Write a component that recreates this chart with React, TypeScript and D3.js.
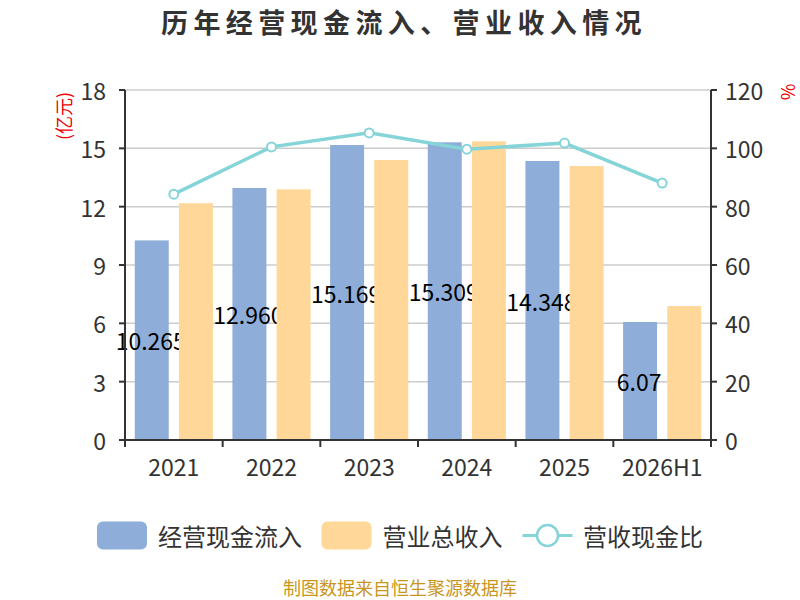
import React from 'react';
import * as d3 from 'd3';

const categories = ['2021', '2022', '2023', '2024', '2025', '2026H1'];
const cashInflow = [10.265, 12.96, 15.169, 15.309, 14.348, 6.07];
const cashInflowLabels = ['10.265', '12.960', '15.169', '15.309', '14.348', '6.07'];
const revenue = [12.18, 12.89, 14.4, 15.36, 14.09, 6.89];
const ratio = [84.3, 100.5, 105.3, 99.7, 101.8, 88.1];
const leftTicks = [0, 3, 6, 9, 12, 15, 18];
const rightTicks = [0, 20, 40, 60, 80, 100, 120];
const legendNames = ['经营现金流入', '营业总收入', '营收现金比'];

const FONT = '"Noto Sans CJK SC", "Noto Sans", sans-serif';
const BLUE = '#8eadd9';
const ORANGE = '#ffd899';
const TEAL = '#84d4d8';
const TXT = '#333';

export default function App() {
  const left = 125, right = 711, top = 90, bottom = 440;
  const x = d3.scaleBand<string>().domain(categories).range([left, right]).paddingInner(0.2).paddingOuter(0.1);
  const yL = d3.scaleLinear().domain([0, 18]).range([bottom, top]);
  const yR = d3.scaleLinear().domain([0, 120]).range([bottom, top]);
  const bw = x.bandwidth() / 2.3;
  const gap = bw * 0.3;
  const step = x.step();
  const cx = (c: string) => (x(c) as number) + x.bandwidth() / 2;
  const line = d3.line<number>().x((_, i) => cx(categories[i])).y((d) => yR(d));

  return (
    <svg width={800} height={600} style={{ position: 'absolute', left: 0, top: 0 }} fontFamily={FONT}>
      <rect width={800} height={600} fill="#fff" />
      <text x={404} y={33} textAnchor="middle" fontSize={27} fontWeight="bold" fill={TXT} letterSpacing={5.4}>
        历年经营现金流入、营业收入情况
      </text>
      {/* grid */}
      {leftTicks.map((t) => (
        <line key={'g' + t} x1={left} x2={right} y1={yL(t)} y2={yL(t)} stroke="#ccc" strokeWidth={1.5} />
      ))}
      {/* blue bars */}
      {categories.map((c, i) => (
        <rect key={'b' + c} x={x(c) as number} y={yL(cashInflow[i])} width={bw} height={bottom - yL(cashInflow[i])} fill={BLUE} />
      ))}
      {/* labels */}
      {categories.map((c, i) => (
        <text key={'l' + c} x={(x(c) as number) + bw / 2 - 1} y={(yL(cashInflow[i]) + bottom) / 2} textAnchor="middle" dominantBaseline="central" fontSize={23} fill="#000">
          {cashInflowLabels[i]}
        </text>
      ))}
      {/* orange bars */}
      {categories.map((c, i) => (
        <rect key={'o' + c} x={(x(c) as number) + bw + gap} y={yL(revenue[i])} width={bw} height={bottom - yL(revenue[i])} fill={ORANGE} />
      ))}
      {/* line */}
      <path d={line(ratio) as string} fill="none" stroke={TEAL} strokeWidth={3.5} />
      {ratio.map((r, i) => (
        <circle key={'c' + i} cx={cx(categories[i])} cy={yR(r)} r={4.5} fill="#fff" stroke={TEAL} strokeWidth={2} />
      ))}
      {/* axes */}
      <line x1={left} x2={left} y1={top} y2={bottom} stroke={TXT} strokeWidth={2} />
      <line x1={right} x2={right} y1={top} y2={bottom} stroke={TXT} strokeWidth={2} />
      <line x1={left - 1} x2={right + 1} y1={bottom} y2={bottom} stroke={TXT} strokeWidth={2} />
      {leftTicks.map((t) => (
        <g key={'lt' + t}>
          <line x1={left - 6} x2={left} y1={yL(t)} y2={yL(t)} stroke={TXT} strokeWidth={2} />
          <text x={106} y={yL(t)} textAnchor="end" dominantBaseline="central" fontSize={23} fill={TXT}>{t}</text>
        </g>
      ))}
      {rightTicks.map((t) => (
        <g key={'rt' + t}>
          <line x1={right} x2={right + 6} y1={yR(t)} y2={yR(t)} stroke={TXT} strokeWidth={2} />
          <text x={725} y={yR(t)} textAnchor="start" dominantBaseline="central" fontSize={23} fill={TXT}>{t}</text>
        </g>
      ))}
      {d3.range(categories.length + 1).map((i) => (
        <line key={'xt' + i} x1={left + i * step} x2={left + i * step} y1={bottom} y2={bottom + 7} stroke={TXT} strokeWidth={2} />
      ))}
      {categories.map((c) => (
        <text key={'xl' + c} x={cx(c)} y={466} textAnchor="middle" dominantBaseline="central" fontSize={23} fill={TXT}>{c}</text>
      ))}
      {/* axis names */}
      <text transform="translate(63,116) rotate(-90)" textAnchor="middle" dominantBaseline="central" fontSize={18} fill="#e00">(亿元)</text>
      <text transform="translate(787,92) rotate(-90)" textAnchor="middle" dominantBaseline="central" fontSize={18} fill="#e00">%</text>
      {/* legend */}
      <rect x={97} y={521.5} width={50} height={28} rx={6} fill={BLUE} />
      <text x={158} y={535} dominantBaseline="central" fontSize={24} fill={TXT}>{legendNames[0]}</text>
      <rect x={321.5} y={521.5} width={50} height={28} rx={6} fill={ORANGE} />
      <text x={382.5} y={535} dominantBaseline="central" fontSize={24} fill={TXT}>{legendNames[1]}</text>
      <line x1={522.5} x2={572.5} y1={535.5} y2={535.5} stroke={TEAL} strokeWidth={3} />
      <circle cx={547.5} cy={535.5} r={10.5} fill="#fff" stroke={TEAL} strokeWidth={2.5} />
      <text x={583} y={535} dominantBaseline="central" fontSize={24} fill={TXT}>{legendNames[2]}</text>
      {/* footer */}
      <text x={400} y={587} textAnchor="middle" dominantBaseline="central" fontSize={18} fill="#c8961e">制图数据来自恒生聚源数据库</text>
    </svg>
  );
}
